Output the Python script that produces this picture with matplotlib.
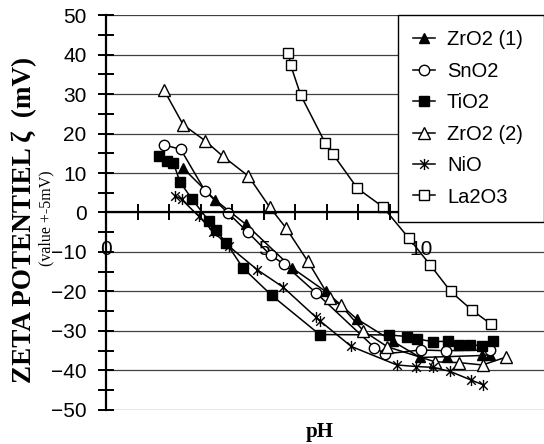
import matplotlib
matplotlib.use("Agg")
import matplotlib.pyplot as plt
from matplotlib.path import Path
from matplotlib.ticker import MultipleLocator, FixedLocator

# data
zr1_ph = [2.45, 3.46, 4.44, 5.9, 6.97, 7.95, 9.1, 9.97, 10.81, 11.93, 12.2]
zr1_z = [11.2, 3.2, -3.0, -14.0, -20.0, -26.9, -32.6, -36.7, -36.5, -36.2, -36.0]

sn_ph = [1.84, 2.37, 3.14, 3.87, 4.49, 5.22, 5.65, 6.66, 8.52, 8.86, 9.99, 10.78, 12.2]
sn_z = [17.1, 16.0, 5.5, -0.1, -4.9, -10.8, -13.1, -20.3, -34.2, -35.8, -34.8, -35.0, -34.8]

ti_ph = [1.67, 1.95, 2.14, 2.35, 2.73, 3.27, 3.48, 3.82, 4.34, 5.26, 6.78,
         8.98, 9.55, 9.87, 10.37, 10.86, 11.2, 11.55, 11.92, 12.29]
ti_z = [14.2, 13.0, 12.5, 7.7, 3.4, -2.2, -4.5, -7.7, -14.0, -21.0, -30.9,
        -31.0, -31.4, -32.0, -32.7, -32.6, -33.5, -33.5, -33.7, -32.5]

zr2_ph = [1.84, 2.45, 3.14, 3.7, 4.52, 5.19, 5.71, 6.4, 7.11, 7.45, 8.17,
          8.93, 10.44, 11.19, 11.95, 12.7]
zr2_z = [31.0, 22.2, 18.2, 14.3, 9.2, 1.4, -3.9, -12.3, -21.7, -23.5, -30.0,
         -34.0, -37.8, -38.0, -38.6, -36.6]

ni_ph = [2.2, 2.4, 2.95, 3.41, 3.89, 4.8, 5.62, 6.66, 6.8, 7.78, 9.23, 9.85,
         10.38, 10.91, 11.58, 11.96]
ni_z = [4.2, 3.3, -1.0, -4.9, -8.5, -14.5, -18.9, -26.5, -27.5, -33.9, -38.6,
        -39.0, -39.2, -40.2, -42.4, -43.6]

la_ph = [5.79, 5.86, 6.18, 6.95, 7.2, 7.98, 8.79, 9.6, 10.29, 10.94, 11.61, 12.21]
la_z = [40.5, 37.3, 29.7, 17.7, 14.8, 6.1, 1.4, -6.4, -13.3, -20.0, -24.7, -28.2]

# asterisk marker: x plus vertical bar
star = Path([(-1, -1), (1, 1), (-1, 1), (1, -1), (0, -1.3), (0, 1.3)],
            [Path.MOVETO, Path.LINETO, Path.MOVETO, Path.LINETO,
             Path.MOVETO, Path.LINETO])

fig = plt.figure(figsize=(5.44, 4.44), dpi=100)
ax = fig.add_axes([0.1949, 0.0766, 0.8051, 0.8896])

kw = dict(color="black", lw=1.1, mec="black", mew=1.0)
ax.plot(zr1_ph, zr1_z, marker="^", ms=7, mfc="black", label="ZrO2 (1)", **kw)
ax.plot(sn_ph, sn_z, marker="o", ms=7.5, mfc="white", label="SnO2", **kw)
ax.plot(ti_ph, ti_z, marker="s", ms=7, mfc="black", label="TiO2", **kw)
ax.plot(zr2_ph, zr2_z, marker="^", ms=8, mfc="white", label="ZrO2 (2)", **kw)
ax.plot(ni_ph, ni_z, marker=star, ms=8, mfc="none", label="NiO", **kw)
ax.plot(la_ph, la_z, marker="s", ms=7, mfc="white", label="La2O3", **kw)

ax.set_xlim(0, 13.9)
ax.set_ylim(-50, 50)

for s in ["top", "right"]:
    ax.spines[s].set_visible(False)
ax.spines["bottom"].set_position(("data", 0))
ax.spines["left"].set_linewidth(1.6)
ax.spines["bottom"].set_linewidth(1.6)

for yv in range(-50, 51, 10):
    ax.axhline(yv, color="0.25", lw=0.9, zorder=0)

ax.yaxis.set_major_locator(MultipleLocator(10))
ax.yaxis.set_minor_locator(MultipleLocator(5))
ax.xaxis.set_major_locator(FixedLocator([0, 5, 10]))
ax.xaxis.set_minor_locator(FixedLocator(range(1, 14)))
ax.tick_params(axis="both", which="both", direction="inout", length=12,
               width=1.4, colors="black")
ax.tick_params(axis="y", labelsize=15, pad=8)
ax.tick_params(axis="x", labelsize=15, pad=14)
for lab in ax.get_xticklabels() + ax.get_yticklabels():
    lab.set_family("Liberation Sans")

leg = ax.legend(loc="upper left", bbox_to_anchor=(0.6658, 0.0, 0.3342, 1.0),
                mode="expand", borderaxespad=0, fancybox=False,
                edgecolor="black", framealpha=1, handlelength=1.1,
                handletextpad=0.6, labelspacing=0.62, borderpad=0.75,
                prop={"family": "Liberation Sans", "size": 14.5})
leg.get_frame().set_linewidth(1.0)

fig.text(0.044, 0.5045, "ZETA POTENTIEL\u2009\u03b6  (mV)", rotation=90,
         ha="center", va="center", family="Liberation Serif",
         weight="bold", size=19.5)
fig.text(0.085, 0.509, "(value +-5mV)", rotation=90, ha="center",
         va="center", family="Liberation Serif", size=11.5)
fig.text(0.588, 0.027, "pH", ha="center", va="center",
         family="Liberation Serif", weight="bold", size=15)

fig.savefig("out.png", dpi=100)
